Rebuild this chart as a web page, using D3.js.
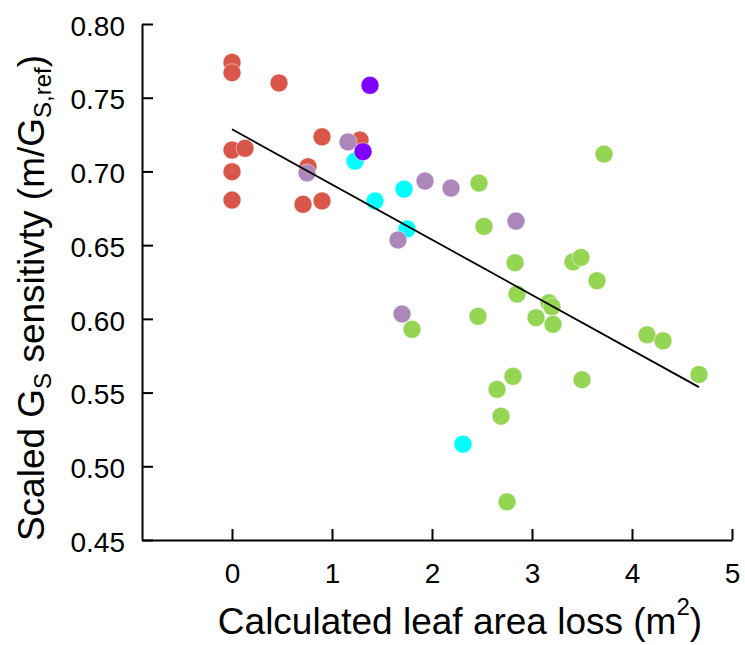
<!DOCTYPE html>
<html>
<head>
<meta charset="utf-8">
<script src="https://cdn.jsdelivr.net/npm/d3@7"></script>
<style>
  body { margin: 0; background: #fff; }
  text { font-family: "Liberation Sans", Arial, sans-serif; fill: #000; }
</style>
</head>
<body>
<div id="plot"></div>
<script>
// leaf area loss (m2) and scaled sensitivity, one pair of arrays per group
const redX = [0, 0, 0.47, 0.90, 1.28, 0, 0.13, 0.76, 0, 0, 0.71, 0.90];
const redY = [0.774, 0.767, 0.760, 0.7235, 0.7213, 0.7145, 0.7157, 0.7032, 0.6998, 0.6806, 0.6777, 0.680];

const cyanX = [1.23, 1.72, 1.43, 1.75, 2.31];
const cyanY = [0.707, 0.688, 0.680, 0.661, 0.515];

const lilacX = [1.16, 0.75, 1.93, 1.66, 1.70, 2.19, 2.84];
const lilacY = [0.720, 0.699, 0.6935, 0.6535, 0.6033, 0.6887, 0.6663];

const violetX = [1.38, 1.31];
const violetY = [0.7584, 0.7134];

const greenX = [1.80, 3.72, 2.47, 2.52, 2.83, 3.41, 3.49, 3.65, 2.85, 3.17, 3.20, 2.46,
  3.04, 3.21, 4.15, 4.31, 4.67, 2.81, 3.50, 2.65, 2.69, 2.75];
const greenY = [0.5929, 0.7118, 0.6921, 0.6627, 0.6381, 0.6387, 0.6417, 0.6259, 0.6168, 0.6109, 0.6082, 0.6017,
  0.6008, 0.5963, 0.5892, 0.5851, 0.5623, 0.5610, 0.5587, 0.5522, 0.534, 0.4759];

// least squares line as drawn
const fitX = [0, 4.67];
const fitY = [0.7286, 0.5537];

const xTicks = [0, 1, 2, 3, 4, 5];
const yTicks = [0.45, 0.50, 0.55, 0.60, 0.65, 0.70, 0.75, 0.80];

const groups = [
  { x: redX, y: redY, color: '#d9574a' },
  { x: cyanX, y: cyanY, color: '#00ffff' },
  { x: lilacX, y: lilacY, color: '#ab87ba' },
  { x: violetX, y: violetY, color: '#8000ff' },
  { x: greenX, y: greenY, color: '#94d653' }
];

const W = 745, H = 645;
const margin = { top: 24, right: 13, bottom: 105, left: 142 };

const svg = d3.select('#plot').append('svg')
  .attr('width', W)
  .attr('height', H);

const xScale = d3.scaleLinear().domain([-0.9, 5]).range([margin.left, W - margin.right]);
const yScale = d3.scaleLinear().domain([0.45, 0.80]).range([H - margin.bottom, margin.top]);

// axes (ticks point inwards)
const xAxis = svg.append('g')
  .attr('transform', `translate(0,${H - margin.bottom})`)
  .call(d3.axisBottom(xScale).tickValues(xTicks).tickFormat(d3.format('d'))
    .tickSizeInner(-11).tickSizeOuter(0).tickPadding(23));

const yAxis = svg.append('g')
  .attr('transform', `translate(${margin.left},0)`)
  .call(d3.axisLeft(yScale).tickValues(yTicks).tickFormat(d3.format('.2f'))
    .tickSizeInner(-11).tickSizeOuter(0).tickPadding(17));

[xAxis, yAxis].forEach((ax) => {
  ax.select('.domain').attr('stroke', '#000').attr('stroke-width', 2);
  ax.selectAll('.tick line').attr('stroke', '#000').attr('stroke-width', 2);
});
xAxis.selectAll('.tick text').style('font-size', '28px');
yAxis.selectAll('.tick text').style('font-size', '28px').attr('dy', '0.4em');

// points
groups.forEach((grp) => {
  svg.append('g').selectAll('circle')
    .data(grp.x.map((v, i) => [v, grp.y[i]]))
    .enter()
    .append('circle')
    .attr('cx', (d) => xScale(d[0]))
    .attr('cy', (d) => yScale(d[1]))
    .attr('r', 9)
    .attr('fill', grp.color)
    .attr('stroke', '#fff')
    .attr('stroke-width', 0.5);
});

// regression line
svg.append('line')
  .attr('x1', xScale(fitX[0]))
  .attr('y1', yScale(fitY[0]))
  .attr('x2', xScale(fitX[1]))
  .attr('y2', yScale(fitY[1]))
  .attr('stroke', '#000')
  .attr('stroke-width', 1.8);

// axis titles
const xLabel = svg.append('text')
  .attr('x', 460)
  .attr('y', 634)
  .attr('text-anchor', 'middle')
  .style('font-size', '37px');
xLabel.append('tspan').text('Calculated leaf area loss (m');
xLabel.append('tspan').attr('dy', -19).style('font-size', '24px').text('2');
xLabel.append('tspan').attr('dy', 19).text(')');

const yLabel = svg.append('text')
  .attr('transform', 'translate(44,298) rotate(-90)')
  .attr('text-anchor', 'middle')
  .style('font-size', '37px');
yLabel.append('tspan').text('Scaled G');
yLabel.append('tspan').attr('dy', 7).style('font-size', '24px').text('S');
yLabel.append('tspan').attr('dy', -7).text(' sensitivty (m/G');
yLabel.append('tspan').attr('dy', 7).style('font-size', '24px').text('S,ref');
yLabel.append('tspan').attr('dy', -7).text(')');
</script>
</body>
</html>
